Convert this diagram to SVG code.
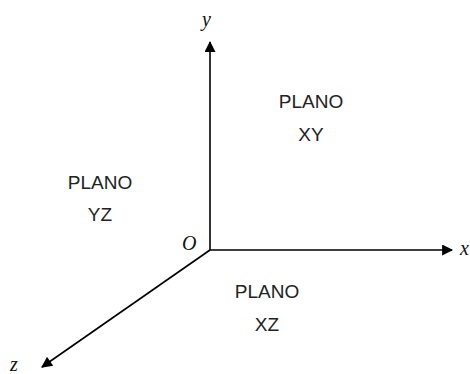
<svg xmlns="http://www.w3.org/2000/svg" width="470" height="374" viewBox="0 0 470 374">
<style>
.ax{stroke:#000;stroke-width:1.6;fill:none}
.lbl{font-family:"Liberation Sans",Arial,sans-serif;font-size:19px;fill:#222;text-anchor:middle}
.var{font-family:"Liberation Serif","DejaVu Serif",serif;font-style:italic;font-size:20px;fill:#111}
</style>
<defs>
<marker id="ah" viewBox="0 0 10 10" refX="9" refY="5" markerWidth="12" markerHeight="11" markerUnits="userSpaceOnUse" orient="auto">
<path d="M0,0 L10,5 L0,10 z" fill="#000"/>
</marker>
</defs>
<rect width="470" height="374" fill="#fff"/>
<g id="connectors">
<line class="ax" x1="210" y1="250" x2="210" y2="42" marker-end="url(#ah)"/>
<line class="ax" x1="210" y1="250" x2="452" y2="250" marker-end="url(#ah)"/>
<line class="ax" x1="210" y1="250" x2="42" y2="367" marker-end="url(#ah)"/>
</g>
<g id="label-y"><text class="var" x="202" y="26">y</text></g>
<g id="label-x"><text class="var" x="460" y="255">x</text></g>
<g id="label-z"><text class="var" x="10" y="371">z</text></g>
<g id="label-O"><text class="var" x="182" y="250">O</text></g>
<g id="plano-xy"><text class="lbl" x="311" y="108">PLANO</text><text class="lbl" x="311" y="141">XY</text></g>
<g id="plano-yz"><text class="lbl" x="100" y="189">PLANO</text><text class="lbl" x="100" y="221">YZ</text></g>
<g id="plano-xz"><text class="lbl" x="267" y="298">PLANO</text><text class="lbl" x="267" y="331">XZ</text></g>
</svg>
